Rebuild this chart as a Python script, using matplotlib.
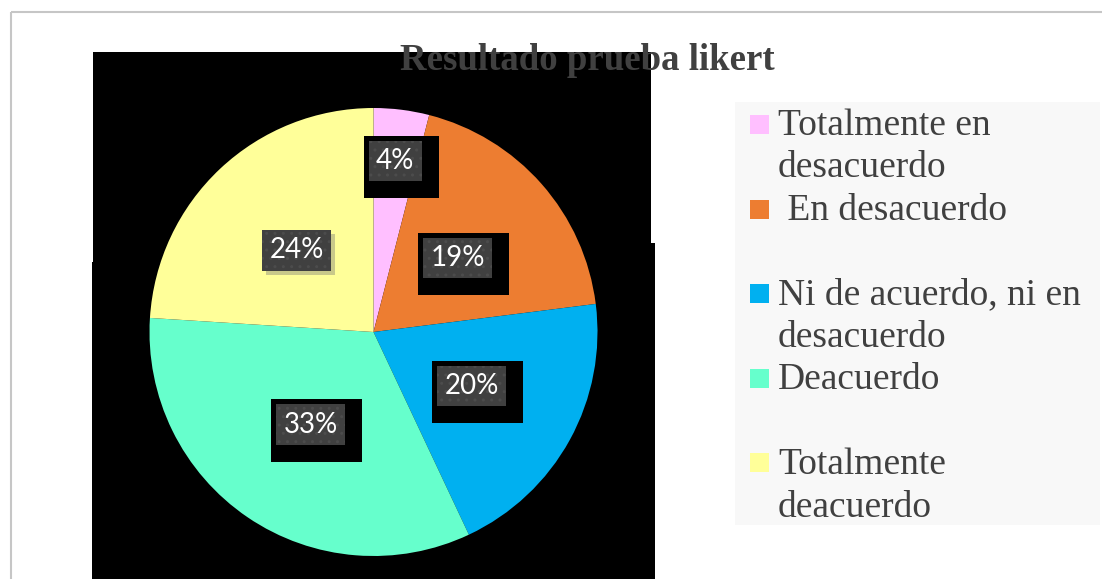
import numpy as np
import matplotlib
matplotlib.use('Agg')
import matplotlib.pyplot as plt
from matplotlib.patches import Rectangle, Polygon
from matplotlib.transforms import Affine2D, offset_copy

# datos de la encuesta
categorias = ["Totalmente en desacuerdo", " En desacuerdo", "Ni de acuerdo, ni en desacuerdo",
              "Deacuerdo", "Totalmente deacuerdo"]
etiquetas_leyenda = ["Totalmente en\ndesacuerdo", " En desacuerdo", "Ni de acuerdo, ni en\ndesacuerdo",
                     "Deacuerdo", "Totalmente\ndeacuerdo"]
porcentajes = [4, 19, 20, 33, 24]
colores = ["#FFBFFF", "#ED7D31", "#00B0F0", "#66FFCC", "#FFFF99"]
titulo = "Resultado prueba likert"

W, H = 1102, 579
fig = plt.figure(figsize=(W / 100, H / 100), dpi=100)
fig.patch.set_facecolor("white")

# coordenadas en pixeles desde arriba a la izquierda
px = Affine2D().scale(1 / W, -1 / H).translate(0, 1) + fig.transFigure

# marco gris
fig.patches.append(Rectangle((11, 12), 1200, 700, transform=px, fill=False,
                             edgecolor="#C6C6C6", linewidth=1.5, zorder=-3))
# fondo negro detras del grafico
fig.patches.append(Polygon([(93, 52), (651, 52), (651, 243), (655, 243), (655, 579),
                            (92, 579), (92, 262), (93, 262)], closed=True,
                           transform=px, facecolor="black", edgecolor="none", zorder=-2))

# pie
cx, cy, r = 373.5, 332, 224
ax = fig.add_axes([(cx - r) / W, (H - cy - r) / H, 2 * r / W, 2 * r / H])
ax.axis("off")
ax.patch.set_alpha(0)

wedges, _ = ax.pie(porcentajes, colors=colores, startangle=90, counterclock=False,
                   radius=1, wedgeprops=dict(linewidth=0))
ax.set_xlim(-1, 1)
ax.set_ylim(-1, 1)
ax.set_aspect("equal")

# etiquetas con caja oscura y sombra
distancias = [0.77, 0.5, 0.5, 0.5, 0.5]
sombras = ["black", "black", "black", "black", "#c9c98a"]
for w, p, d, sc in zip(wedges, porcentajes, distancias, sombras):
    ang = np.deg2rad((w.theta1 + w.theta2) / 2)
    x, y = d * np.cos(ang), d * np.sin(ang)
    if sc == "black":
        tr = offset_copy(ax.transData, fig, x=6, y=-6, units="dots")
        pad = 0.66
    else:
        tr = offset_copy(ax.transData, fig, x=4, y=-4, units="dots")
        pad = 0.26
    ax.text(x, y, f"{p}%", transform=tr, ha="center", va="center", fontsize=20,
            family="Lato", color=sc,
            bbox=dict(boxstyle=f"square,pad={pad}", facecolor=sc, edgecolor="none"))
    ax.text(x, y, f"{p}%", ha="center", va="center", fontsize=20, family="Lato",
            color="white",
            bbox=dict(boxstyle="square,pad=0.26", facecolor="#404040", edgecolor="#4c4c4c",
                      linewidth=0, hatch=".."))

# titulo
fig.text(587, 70, titulo, transform=px, ha="center", va="baseline", fontsize=26.5,
         fontweight="bold", family="Liberation Serif", color="#404040")

# leyenda
fig.patches.append(Rectangle((735, 102), 365, 423, transform=px, facecolor="#F8F8F8",
                             edgecolor="none", zorder=-2))
for i, (lab, col) in enumerate(zip(etiquetas_leyenda, colores)):
    fig.patches.append(Rectangle((750, 115 + 84.6 * i), 19, 19, transform=px,
                                 facecolor=col, edgecolor="none"))
    for j, txt in enumerate(lab.split("\n")):
        fig.text(778, 135 + 42.4 * (2 * i + j), txt, transform=px, ha="left",
                 va="baseline", fontsize=27, family="Liberation Serif", color="#404040")

fig.savefig("out.png", dpi=100)
